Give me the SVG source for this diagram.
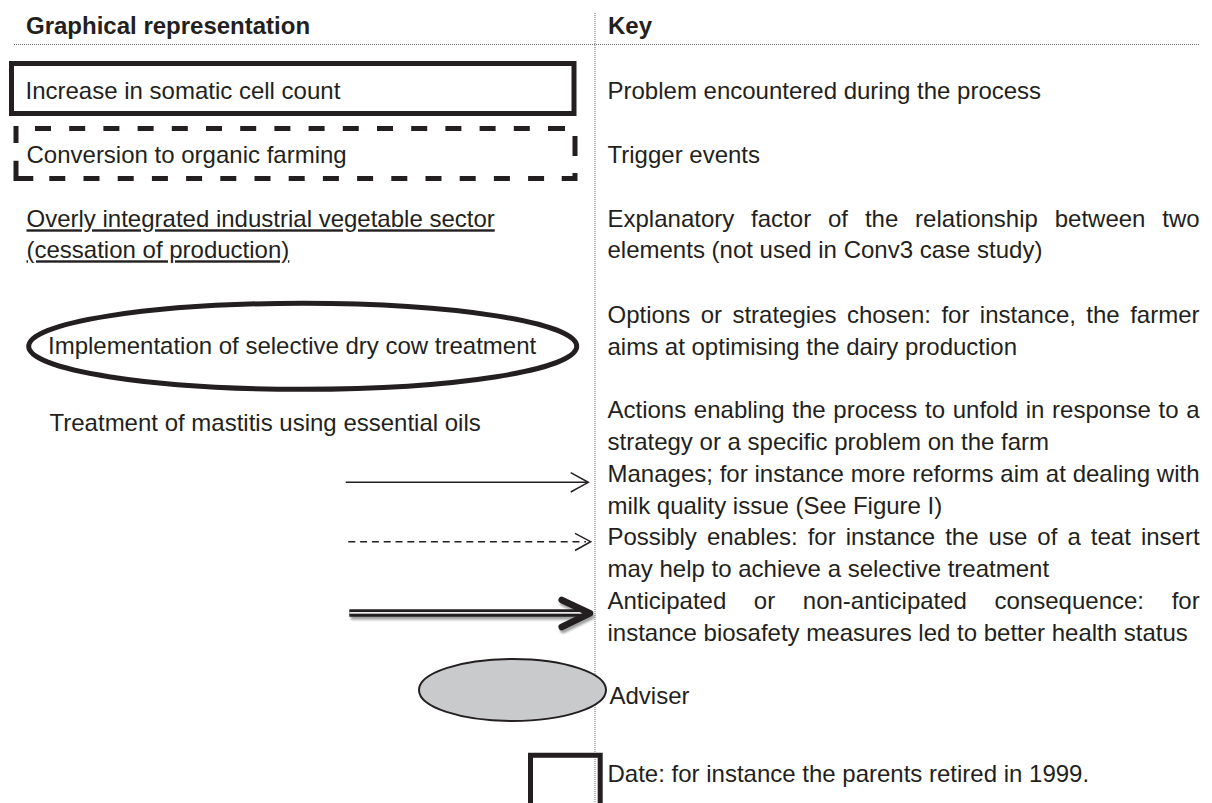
<svg xmlns="http://www.w3.org/2000/svg" width="1212" height="803" viewBox="0 0 1212 803">
<defs>
<style>
text{font-family:"Liberation Sans",Arial,sans-serif;font-size:24px;fill:#231f20}
.b{font-weight:bold}
.u{text-decoration:underline}
.dot{stroke:#6d6e71;stroke-width:1;stroke-dasharray:1 1;fill:none}
.thick{fill:none;stroke:#231f20;stroke-width:5}
.thin{fill:none;stroke:#231f20;stroke-width:1.5}
</style>
<filter id="sh" x="-10%" y="-50%" width="120%" height="200%"><feGaussianBlur stdDeviation="1.3"/></filter>
</defs>
<rect width="1212" height="803" fill="#fff"/>
<g id="grid">
<line class="dot" x1="14" y1="44.5" x2="1200" y2="44.5"/>
<line class="dot" x1="595" y1="13" x2="595" y2="803"/>
</g>
<g id="headers">
<text class="b" x="26" y="34.3">Graphical representation</text>
<text class="b" x="608" y="34.3">Key</text>
</g>
<g id="node-problem">
<rect class="thick" x="11.5" y="63.5" width="562.5" height="50"/>
<text x="25.5" y="99.3">Increase in somatic cell count</text>
</g>
<g id="node-trigger">
<path class="thick" d="M35,128.5h16M69.2,128.5h16M103.4,128.5h16M137.6,128.5h16M171.8,128.5h16M206,128.5h16M240.2,128.5h16M274.4,128.5h16M308.6,128.5h16M342.8,128.5h16M377,128.5h16M411.2,128.5h16M445.4,128.5h16M479.6,128.5h16M513.8,128.5h16M548,128.5h17M16,126v17M16,160.7V178.5H33.3M49.3,178.5h16M83.5,178.5h16M117.7,178.5h16M151.9,178.5h16M186.1,178.5h16M220.3,178.5h16M254.5,178.5h16M288.7,178.5h16M322.9,178.5h16M357.1,178.5h16M391.3,178.5h16M425.5,178.5h16M459.7,178.5h16M493.9,178.5h16M528.1,178.5h16M561.7,178.5H575V173M575,136v20"/>
<text x="26.5" y="163.3">Conversion to organic farming</text>
</g>
<g id="node-factor">
<text class="u" x="26.5" y="227.3">Overly integrated industrial vegetable sector</text>
<text class="u" x="26.5" y="258.3">(cessation of production)</text>
</g>
<g id="node-strategy">
<ellipse class="thick" cx="302.7" cy="346.3" rx="274" ry="43"/>
<text x="48" y="354">Implementation of selective dry cow treatment</text>
</g>
<g id="node-action">
<text x="49.5" y="431">Treatment of mastitis using essential oils</text>
</g>
<g id="connectors">
<g id="arrow-manages">
<line class="thin" x1="345.7" y1="482.3" x2="588" y2="482.3"/>
<path class="thin" d="M570.7,472.7L588.3,482.3L570.7,492"/>
</g>
<g id="arrow-possibly">
<line class="thin" x1="348.3" y1="541.7" x2="586" y2="541.7" stroke-dasharray="7 4.8"/>
<path class="thin" d="M575,533.3L590.7,541.7L575,550.5"/>
</g>
<g id="arrow-consequence">
<g filter="url(#sh)" opacity="0.55" transform="translate(1.5,3)">
<line x1="349.3" y1="613" x2="585" y2="613" stroke="#555" stroke-width="7.3"/>
<path d="M561.7,600L590,613.3L561.7,627" fill="none" stroke="#555" stroke-width="6.5" stroke-linecap="round" stroke-linejoin="round"/>
</g>
<line x1="349.3" y1="613" x2="585" y2="613" stroke="#231f20" stroke-width="7.3"/>
<line x1="349.3" y1="612.8" x2="583" y2="612.8" stroke="#e6e7e8" stroke-width="1.8"/>
<path d="M561.7,600L590,613.3L561.7,627" fill="none" stroke="#231f20" stroke-width="6.5" stroke-linecap="round" stroke-linejoin="round"/>
</g>
</g>
<g id="node-adviser">
<ellipse cx="512.5" cy="690" rx="93.5" ry="31" fill="#c9cacc" stroke="#231f20" stroke-width="2"/>
</g>
<g id="node-date">
<path d="M530.5,803V755.2H600.2V803" fill="none" stroke="#231f20" stroke-width="5"/>
</g>
<g id="key-texts">
<text x="607.5" y="99.3">Problem encountered during the process</text>
<text x="607.5" y="163.3">Trigger events</text>
<text x="607.5" y="226.7" style="word-spacing:10.2px">Explanatory factor of the relationship between two</text>
<text x="607.5" y="258.3">elements (not used in Conv3 case study)</text>
<text x="607.5" y="323.3" style="word-spacing:3.77px">Options or strategies chosen: for instance, the farmer</text>
<text x="607.5" y="355">aims at optimising the dairy production</text>
<text x="607.5" y="418" style="word-spacing:1px">Actions enabling the process to unfold in response to a</text>
<text x="607.5" y="449.9">strategy or a specific problem on the farm</text>
<text x="607.5" y="481.7" style="word-spacing:0.14px">Manages; for instance more reforms aim at dealing with</text>
<text x="607.5" y="513.6">milk quality issue (See Figure I)</text>
<text x="607.5" y="545.4" style="word-spacing:3.38px">Possibly enables: for instance the use of a teat insert</text>
<text x="607.5" y="577.3">may help to achieve a selective treatment</text>
<text x="607.5" y="609.2" style="word-spacing:20.95px">Anticipated or non-anticipated consequence: for</text>
<text x="607.5" y="641">instance biosafety measures led to better health status</text>
<text x="609.5" y="704">Adviser</text>
<text x="607.5" y="781.7">Date: for instance the parents retired in 1999.</text>
</g>
</svg>
